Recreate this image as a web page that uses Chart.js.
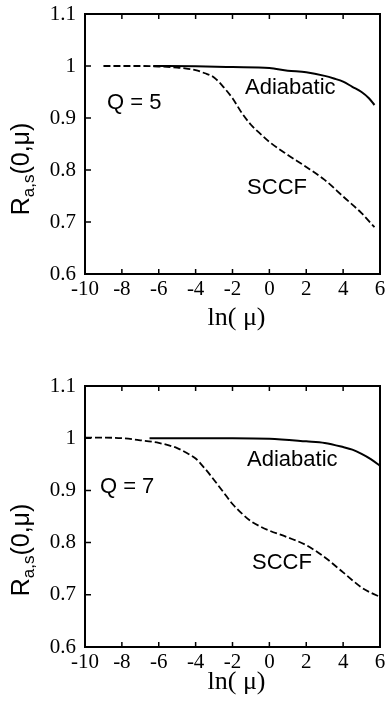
<!DOCTYPE html>
<html>
<head>
<meta charset="utf-8">
<script src="https://cdn.jsdelivr.net/npm/chart.js@4.4.0/dist/chart.umd.min.js"></script>
<style>
  body { margin: 0; background: #fff; }
  canvas { position: absolute; left: 0; }
</style>
</head>
<body>
<canvas id="chartQ5" width="391" height="352" style="top:0"></canvas>
<canvas id="chartQ7" width="391" height="352" style="top:352px"></canvas>
<script>
// x ticks and y ticks shared by both panels
const xTicks = [-10, -8, -6, -4, -2, 0, 2, 4, 6];
const yTicks = [0.6, 0.7, 0.8, 0.9, 1.0, 1.1];

// Q = 5
const sccfQ5X = [-9, -8, -7, -6, -5, -4.5, -4, -3.5, -3, -2.5, -2, -1.5, -1, -0.5, 0, 1, 2, 3, 4, 5, 5.7];
const sccfQ5Y = [1.0, 1.0, 1.0, 0.999, 0.997, 0.995, 0.992, 0.986, 0.978, 0.960, 0.938, 0.910, 0.887, 0.870, 0.854, 0.829, 0.806, 0.781, 0.749, 0.717, 0.690];
const adiaQ5X = [-6.3, -4, -2, 0, 1, 2, 3, 3.5, 4, 4.5, 5, 5.4, 5.7];
const adiaQ5Y = [1.0, 0.9995, 0.998, 0.996, 0.991, 0.988, 0.981, 0.976, 0.970, 0.960, 0.950, 0.938, 0.925];

// Q = 7
const sccfQ7X = [-10, -9, -8, -7, -6, -5, -4.5, -4, -3.5, -3, -2.5, -2, -1.5, -1, -0.5, 0, 1, 2, 3, 4, 5, 5.5, 6];
const sccfQ7Y = [1.001, 1.001, 1.0, 0.996, 0.991, 0.981, 0.972, 0.961, 0.942, 0.920, 0.897, 0.874, 0.856, 0.841, 0.831, 0.823, 0.810, 0.795, 0.772, 0.743, 0.714, 0.704, 0.696];
const adiaQ7X = [-6.5, -4, -2, 0, 2, 3, 4, 4.5, 5, 5.5, 6];
const adiaQ7Y = [1.0, 1.0, 1.0, 0.999, 0.994, 0.991, 0.983, 0.978, 0.970, 0.960, 0.947];

function pts(xs, ys) {
    return xs.map((x, i) => ({ x: x, y: ys[i] }));
}

// frame, inward ticks and the text labels
const decorPlugin = {
    id: 'decor',
    afterDraw(chart, args, opts) {
        const ctx = chart.ctx;
        const xs = chart.scales.x, ys = chart.scales.y;
        const a = chart.chartArea;
        ctx.save();
        ctx.strokeStyle = '#000';
        ctx.lineWidth = 2;
        ctx.strokeRect(a.left, a.top, a.right - a.left, a.bottom - a.top);
        ctx.lineWidth = 1.5;
        ctx.beginPath();
        xTicks.slice(1, -1).forEach(v => {
            const px = xs.getPixelForValue(v);
            ctx.moveTo(px, a.bottom); ctx.lineTo(px, a.bottom - 5);
            ctx.moveTo(px, a.top); ctx.lineTo(px, a.top + 5);
        });
        yTicks.slice(1, -1).forEach(v => {
            const py = ys.getPixelForValue(v);
            ctx.moveTo(a.left, py); ctx.lineTo(a.left + 6, py);
        });
        ctx.stroke();

        // annotations
        ctx.fillStyle = '#000';
        ctx.textBaseline = 'middle';
        ctx.textAlign = 'left';
        ctx.font = '22px "Liberation Sans", Arial, sans-serif';
        opts.notes.forEach(n => {
            ctx.fillText(n.text, xs.getPixelForValue(n.x), ys.getPixelForValue(n.y));
        });

        // x title
        ctx.textBaseline = 'alphabetic';
        ctx.textAlign = 'center';
        ctx.font = '26px "Liberation Serif", "Times New Roman", serif';
        ctx.fillText('ln( \u03bc)', (a.left + a.right) / 2 + 4, opts.xTitleY);

        // y title with subscript
        ctx.translate(29, opts.yTitleY);
        ctx.rotate(-Math.PI / 2);
        ctx.textAlign = 'left';
        const big = '25px "Liberation Sans", Arial, sans-serif';
        const small = '17px "Liberation Sans", Arial, sans-serif';
        ctx.font = big; const w1 = ctx.measureText('R').width;
        ctx.font = small; const w2 = ctx.measureText('a,s').width;
        ctx.font = big; const w3 = ctx.measureText('(0,\u03bc)').width;
        let x0 = -(w1 + w2 + w3) / 2;
        ctx.font = big; ctx.fillText('R', x0, 0);
        ctx.font = small; ctx.fillText('a,s', x0 + w1, 5);
        ctx.font = big; ctx.fillText('(0,\u03bc)', x0 + w1 + w2, 0);
        ctx.restore();
    }
};

function makeChart(id, sccf, adia, padTop, xHeight, notes, xTitleY, yTitleY) {
    new Chart(document.getElementById(id), {
        type: 'line',
        data: {
            datasets: [
                {
                    label: 'SCCF',
                    data: sccf,
                    borderColor: '#000',
                    borderWidth: 1.8,
                    borderDash: [7, 3],
                    pointRadius: 0,
                    cubicInterpolationMode: 'monotone',
                    fill: false
                },
                {
                    label: 'Adiabatic',
                    data: adia,
                    borderColor: '#000',
                    borderWidth: 2,
                    pointRadius: 0,
                    cubicInterpolationMode: 'monotone',
                    fill: false
                }
            ]
        },
        options: {
            responsive: false,
            animation: false,
            layout: { padding: { top: padTop, right: 11, left: 0, bottom: 0 } },
            plugins: {
                legend: { display: false },
                tooltip: { enabled: false },
                decor: { notes: notes, xTitleY: xTitleY, yTitleY: yTitleY }
            },
            scales: {
                x: {
                    type: 'linear',
                    min: -10,
                    max: 6,
                    afterBuildTicks: s => { s.ticks = xTicks.map(v => ({ value: v })); },
                    afterFit: s => { s.height = xHeight; s.paddingLeft = 0; s.paddingRight = 0; },
                    grid: { display: false, drawTicks: false, tickLength: 0 },
                    border: { display: false },
                    ticks: {
                        padding: 3,
                        color: '#000',
                        maxRotation: 0,
                        font: { family: '"Liberation Serif", "Times New Roman", serif', size: 21 },
                        callback: v => String(v)
                    }
                },
                y: {
                    type: 'linear',
                    min: 0.6,
                    max: 1.1,
                    afterBuildTicks: s => { s.ticks = yTicks.map(v => ({ value: v })); },
                    afterFit: s => { s.width = 85; s.paddingTop = 0; s.paddingBottom = 0; },
                    grid: { display: false, drawTicks: false, tickLength: 0 },
                    border: { display: false },
                    ticks: {
                        padding: 9,
                        color: '#000',
                        font: { family: '"Liberation Serif", "Times New Roman", serif', size: 21 },
                        callback: v => String(Math.round(v * 10) / 10)
                    }
                }
            }
        },
        plugins: [decorPlugin]
    });
}

makeChart('chartQ5', pts(sccfQ5X, sccfQ5Y), pts(adiaQ5X, adiaQ5Y), 14, 78,
    [
        { text: 'Adiabatic', x: -1.32, y: 0.958 },
        { text: 'Q = 5', x: -8.81, y: 0.929 },
        { text: 'SCCF', x: -1.21, y: 0.765 }
    ], 325, 169);

makeChart('chartQ7', pts(sccfQ7X, sccfQ7Y), pts(adiaQ7X, adiaQ7Y), 34, 57, 
    [
        { text: 'Adiabatic', x: -1.21, y: 0.958 },
        { text: 'Q = 7', x: -9.19, y: 0.906 },
        { text: 'SCCF', x: -0.94, y: 0.761 }
    ], 337, 198);
</script>
</body>
</html>
